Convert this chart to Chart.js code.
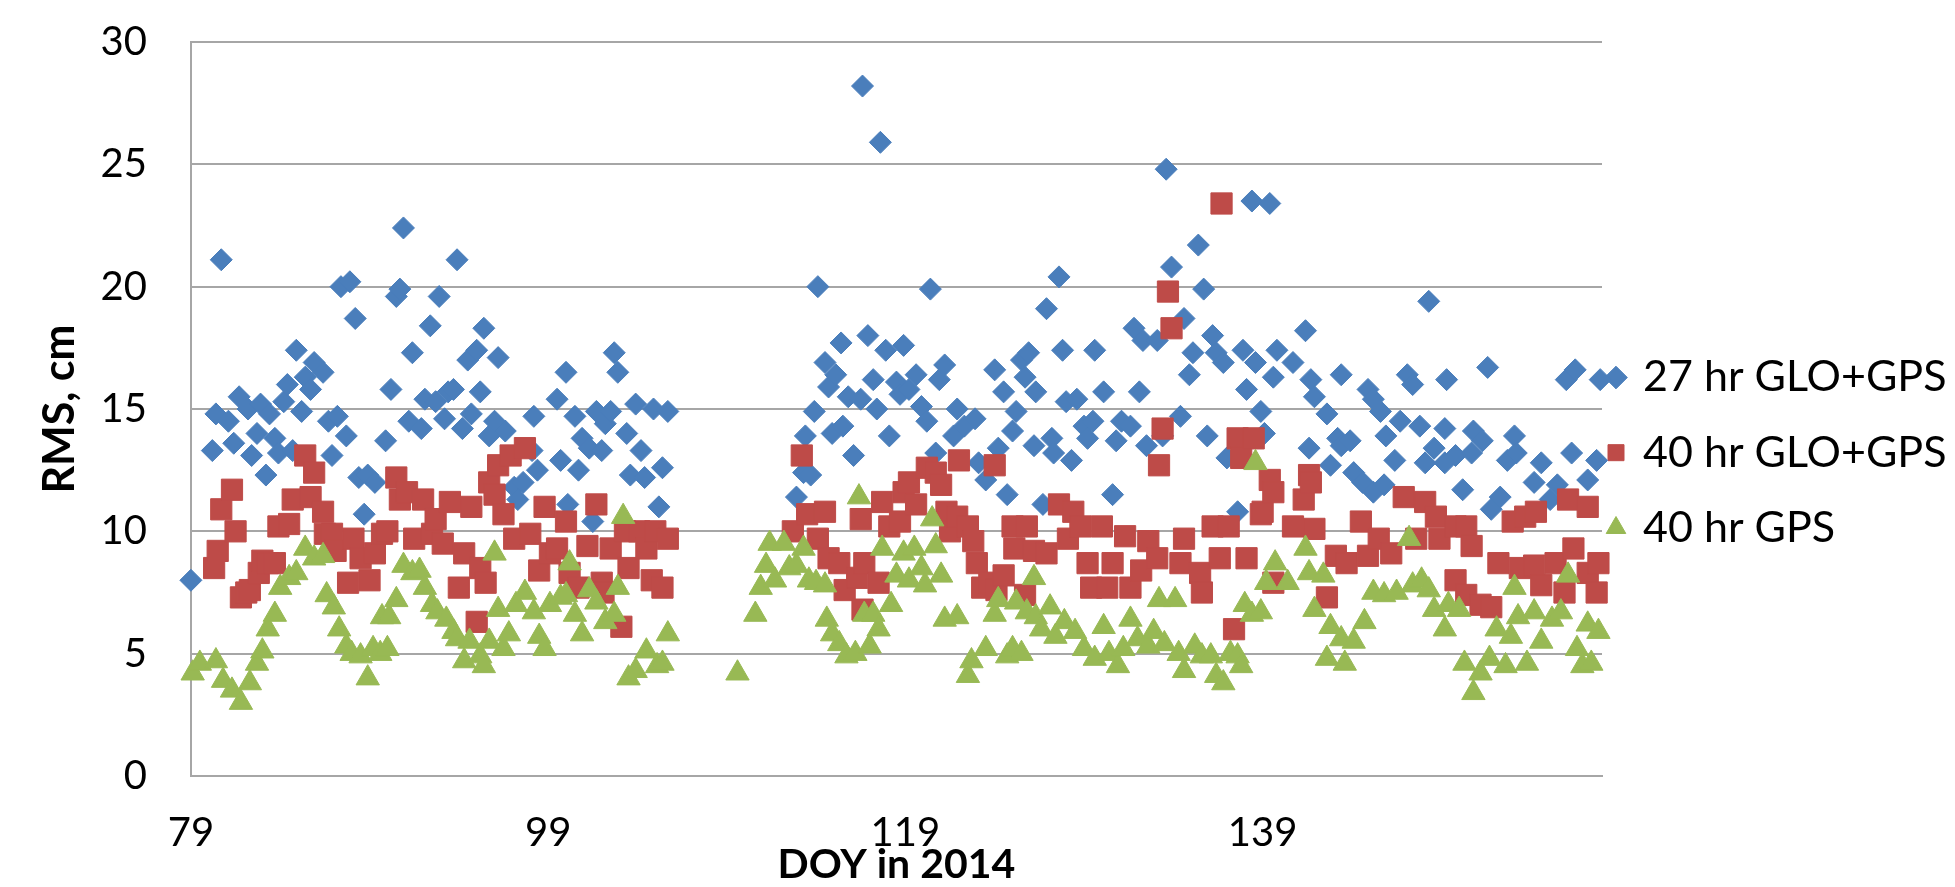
<!DOCTYPE html>
<html><head><meta charset="utf-8">
<script src="https://cdn.jsdelivr.net/npm/chart.js@4.4.1/dist/chart.umd.min.js"></script>
<style>html,body{margin:0;padding:0;background:#fff;}canvas{display:block;}</style>
</head><body>
<canvas id="c" width="1955" height="887"></canvas>
<script>
const seriesNames = ['27 hr GLO+GPS', '40 hr GLO+GPS', '40 hr GPS'];
const xTickValues = [79, 99, 119, 139];

const dayBlue = [79.0,80.2,80.4,80.7,81.1,81.4,81.7,82.2,82.4,82.7,82.9,83.2,83.4,83.7,83.9,84.2,84.4,84.7,84.9,85.2,85.4,85.7,85.9,86.4,86.7,86.9,87.2,87.4,87.7,87.9,88.2,88.4,88.7,88.9,89.3,89.9,90.2,90.5,90.7,90.9,91.2,91.4,91.9,92.1,92.4,92.7,92.9,93.2,93.4,93.7,93.9,94.2,94.5,94.7,95.0,95.2,95.4,95.7,96.0,96.2,96.6,97.1,97.3,97.6,98.1,98.2,98.4,99.5,99.7,100.0,100.1,100.5,100.7,100.9,101.3,101.5,101.7,102.0,102.2,102.5,102.7,102.9,103.4,103.6,103.9,104.2,104.4,104.9,105.2,105.4,105.7,
112.9,113.3,113.4,113.7,113.9,114.1,114.5,114.7,114.9,115.1,115.4,115.5,115.8,116.1,116.5,116.6,116.9,117.2,117.4,117.6,117.9,118.1,118.5,118.7,118.9,119.2,119.6,119.9,120.2,120.4,120.7,120.9,121.2,121.7,121.9,122.3,122.9,123.1,123.5,124.0,124.2,124.5,124.7,125.0,125.2,125.5,125.7,125.9,126.2,126.3,126.7,126.9,127.2,127.3,127.6,127.8,128.0,128.3,128.6,129.0,129.2,129.5,129.6,130.1,130.6,130.8,131.1,131.6,131.8,132.1,132.3,132.5,133.1,133.4,133.6,133.9,134.4,134.6,134.9,135.1,135.4,135.7,135.9,136.2,136.4,136.8,137.0,137.6,137.9,138.1,138.4,138.6,138.9,139.1,139.4,139.6,139.8,140.7,
141.4,141.6,141.7,141.9,142.6,142.8,143.2,143.4,143.4,143.9,144.1,144.6,144.9,145.2,145.2,145.6,145.8,145.9,146.4,146.7,147.1,147.4,147.8,148.1,148.3,148.6,149.2,149.2,149.3,149.8,150.2,150.7,150.8,151.3,151.6,151.8,152.3,152.7,153.1,153.2,154.2,154.6,155.1,155.5,156.0,156.3,156.5,157.2,157.7,157.9];
const rmsBlue = [8.0,13.3,14.8,21.1,14.5,13.6,15.5,15.0,13.1,14.0,15.2,12.3,14.8,13.8,13.2,15.3,16.0,13.3,17.4,14.9,16.3,15.8,16.9,16.5,14.5,13.1,14.7,20.0,13.9,20.2,18.7,12.2,10.7,12.3,12.0,13.7,15.8,19.6,19.9,22.4,14.5,17.3,14.2,15.4,18.4,15.3,19.6,14.6,15.7,15.8,21.1,14.2,17.0,14.8,17.4,15.7,18.3,13.9,14.5,17.1,14.1,11.8,11.3,12.0,13.3,14.7,12.5,15.4,12.9,16.5,11.1,14.7,12.5,13.8,13.4,10.4,14.9,13.3,14.4,14.9,17.3,16.5,14.0,12.3,15.2,13.3,12.2,15.0,11.0,12.6,14.9,
11.4,12.4,13.9,12.3,14.9,20.0,16.9,15.9,14.0,16.4,17.7,14.3,15.5,13.1,15.4,28.2,18.0,16.2,15.0,25.9,17.4,13.9,16.1,15.6,17.6,15.8,16.4,15.1,14.5,19.9,13.2,16.2,16.8,13.9,15.0,14.3,14.6,12.8,12.1,16.6,13.4,15.7,11.5,14.1,14.9,17.0,16.3,17.3,13.5,15.7,11.1,19.1,13.8,13.2,20.4,17.4,15.3,12.9,15.4,14.3,13.8,14.5,17.4,15.7,11.5,13.7,14.5,14.3,18.3,15.7,17.8,13.5,17.8,13.9,24.8,20.8,14.7,18.7,16.4,17.3,21.7,19.9,13.9,18.0,17.3,16.9,13.0,10.8,17.4,15.8,23.5,16.9,14.9,14.0,23.4,16.3,17.4,16.9,
18.2,13.4,16.2,15.5,14.8,12.7,13.8,16.4,13.5,13.7,12.4,12.0,15.8,15.4,11.6,14.9,11.9,13.9,12.9,14.5,16.4,16.0,14.3,12.8,19.4,13.4,14.2,12.8,16.2,13.1,11.7,13.2,14.1,13.7,16.7,10.9,11.4,12.9,13.9,13.2,12.0,12.8,11.3,11.9,16.2,13.2,16.6,12.1,12.9,16.2];

const dayRed = [80.3,80.5,80.7,81.3,81.5,81.8,82.1,82.3,82.8,83.0,83.3,83.7,83.9,84.5,84.7,85.4,85.7,85.9,86.4,86.5,86.9,87.1,87.8,88.1,88.5,89.0,89.3,89.7,90.0,90.5,90.7,91.1,91.5,92.0,92.5,92.7,93.1,93.5,94.0,94.3,94.7,95.0,95.2,95.5,95.7,96.0,96.2,96.5,96.9,97.1,97.7,98.0,98.5,98.8,99.1,99.5,100.0,100.2,100.7,101.2,101.7,102.0,102.1,102.5,103.1,103.3,103.5,104.1,104.5,104.8,105.0,105.4,105.7,
112.7,113.2,113.5,114.1,114.5,114.7,115.3,115.6,116.3,116.5,116.6,116.7,117.5,117.7,118.1,118.7,118.9,119.2,119.6,120.2,120.7,121.0,121.3,121.5,121.9,122.0,122.5,122.8,123.0,123.3,123.7,124.0,124.1,124.5,125.0,125.1,125.7,125.8,126.2,126.9,127.6,128.1,128.4,128.8,129.2,129.4,130.0,130.3,130.6,131.3,131.6,132.2,132.6,133.1,133.2,133.4,133.7,133.9,134.4,134.6,135.5,135.6,136.2,136.6,136.7,137.1,137.4,137.6,137.8,138.1,138.5,138.9,139.0,139.4,139.6,139.6,140.7,141.3,
141.6,141.7,141.9,142.6,143.1,143.7,144.5,144.9,145.5,146.2,146.9,147.6,148.1,148.7,148.9,149.8,149.8,150.4,150.4,150.7,151.2,151.8,152.2,153.0,153.4,153.7,154.2,154.3,154.6,155.4,155.9,156.1,156.4,157.2,157.2,157.7,157.8];
const rmsRed = [8.5,9.2,10.9,11.7,10.0,7.3,7.5,7.6,8.3,8.8,8.7,8.7,10.2,10.3,11.3,13.1,11.4,12.4,10.8,9.9,9.9,9.2,7.9,9.7,8.9,8.0,9.1,9.9,10.0,12.2,11.3,11.6,9.7,11.3,9.9,10.5,9.5,11.2,7.7,9.1,11.0,6.3,8.5,7.9,12.0,11.5,12.7,10.7,13.1,9.7,13.4,9.9,8.4,11.0,9.1,9.3,10.4,8.3,7.7,9.4,11.1,7.9,7.5,9.3,6.1,10.0,8.5,10.0,9.3,8.0,10.0,7.7,9.7,
10.0,13.1,10.7,9.7,10.8,8.9,8.7,7.6,8.1,10.5,6.8,8.7,7.9,11.2,10.2,10.4,11.6,12.0,11.1,12.6,12.4,11.9,10.8,10.0,10.6,12.9,10.2,9.6,8.7,7.7,7.9,12.7,7.6,8.2,10.2,9.3,7.4,10.2,9.2,9.1,11.1,9.7,10.8,10.2,8.7,7.7,10.2,7.7,8.7,9.8,7.7,8.4,9.6,8.9,12.7,14.2,19.8,18.3,8.7,9.7,8.3,7.5,10.2,8.9,23.4,10.2,6.0,13.8,13.0,8.9,13.8,10.7,10.8,12.1,11.6,7.9,10.2,11.3,
12.3,12.0,10.1,7.3,9.0,8.7,10.4,9.0,9.7,9.1,11.4,9.7,11.2,10.6,9.7,10.2,8.0,10.2,7.4,9.4,7.0,6.9,8.7,10.4,8.5,10.6,8.6,10.8,7.8,8.7,7.5,11.3,9.3,11.0,8.3,7.5,8.7];

const dayGreen = [79.1,79.5,80.4,80.8,81.3,81.8,82.3,82.7,83.0,83.3,83.7,84.0,84.5,84.9,85.4,85.9,86.4,86.6,87.0,87.3,87.7,88.0,88.5,88.9,89.2,89.6,89.7,90.0,90.1,90.5,90.9,91.4,91.8,92.1,92.5,92.8,93.3,93.7,93.9,94.3,94.6,95.2,95.4,95.7,96.0,96.2,96.5,96.8,97.2,97.7,98.2,98.5,98.8,99.1,99.7,100.0,100.2,100.5,100.9,101.3,101.7,102.2,102.7,102.9,103.2,103.5,103.9,104.5,105.1,105.4,105.7,109.6,
110.6,110.9,111.2,111.4,111.7,112.2,112.5,112.9,113.3,113.6,114.0,114.5,114.6,114.9,115.3,115.7,116.2,116.4,116.7,117.0,117.2,117.5,117.7,118.2,118.5,118.9,119.2,119.5,119.9,120.1,120.5,120.7,121.0,121.2,121.9,122.5,122.7,123.5,124.0,124.2,124.7,125.0,125.2,125.5,125.8,126.2,126.3,126.6,127.1,127.4,127.9,128.5,129.0,129.6,130.1,130.4,130.9,131.2,131.6,132.0,132.6,132.9,133.2,133.5,134.1,134.3,134.6,135.2,135.6,136.1,136.4,136.8,137.2,137.6,137.8,138.0,138.4,138.6,138.9,139.2,139.7,140.4,
141.4,141.6,141.9,142.4,142.6,142.8,143.4,143.6,144.1,144.7,145.2,145.8,146.5,147.2,147.4,147.9,148.3,148.6,149.2,149.4,150.0,150.3,150.8,151.2,151.7,152.1,152.6,152.9,153.1,153.3,153.8,154.2,154.6,155.2,155.7,156.1,156.6,156.9,157.2,157.4,157.8];
const rmsGreen = [4.2,4.6,4.7,3.9,3.5,3.0,3.8,4.6,5.1,6.0,6.6,7.7,8.1,8.3,9.3,8.9,9.0,7.4,6.9,6.0,5.3,5.0,4.9,4.0,5.2,5.0,6.5,5.2,6.5,7.2,8.6,8.3,8.4,7.7,7.0,6.7,6.4,5.9,5.6,4.7,5.5,4.9,4.5,5.5,9.1,6.8,5.2,5.8,7.0,7.5,6.7,5.7,5.2,7.0,7.3,7.4,8.7,6.6,5.8,7.6,7.1,6.3,6.6,7.7,10.6,4.0,4.3,5.1,4.5,4.6,5.8,4.2,
6.6,7.7,8.6,9.5,8.0,9.5,8.5,8.6,9.3,8.0,7.9,7.8,6.4,5.8,5.4,4.9,5.0,11.4,6.6,5.3,6.6,6.0,9.3,7.0,8.2,9.1,8.0,9.3,8.5,7.8,10.5,9.4,8.2,6.4,6.5,4.1,4.7,5.2,6.6,7.2,4.9,5.2,7.1,5.0,6.7,8.1,6.5,6.0,6.9,5.7,6.3,5.9,5.2,4.8,6.1,5.0,4.5,5.2,6.4,5.6,5.3,5.9,7.2,5.4,7.2,5.0,4.3,5.3,4.9,4.9,4.1,3.8,5.0,4.9,4.5,7.0,6.6,12.8,6.7,7.9,8.7,7.9,
9.3,8.3,6.8,8.2,4.8,6.1,5.6,4.6,5.5,6.3,7.5,7.4,7.5,9.7,7.8,8.0,7.6,6.8,6.0,7.0,6.8,4.6,3.4,4.2,4.8,6.0,4.5,5.7,7.7,6.5,4.6,6.7,5.5,6.4,6.7,8.2,5.2,4.5,6.2,4.6,5.9];

function pts(xs, ys) { return xs.map((x, i) => ({x: x, y: ys[i]})); }

function draw() {
  const tickFont = {family: 'Lato', size: 40, lineHeight: 1};
  new Chart(document.getElementById('c'), {
    type: 'scatter',
    data: {
      datasets: [
        {label: seriesNames[0], data: pts(dayBlue, rmsBlue), pointStyle: 'rectRot', pointRadius: 11,
         backgroundColor: '#4a7ebb', borderColor: '#4a7ebb', borderWidth: 1, order: 3, clip: false},
        {label: seriesNames[1], data: pts(dayRed, rmsRed), pointStyle: 'rect', pointRadius: 15,
         backgroundColor: '#be4b48', borderColor: '#be4b48', borderWidth: 1, order: 2, clip: false},
        {label: seriesNames[2], data: pts(dayGreen, rmsGreen), pointStyle: 'triangle', pointRadius: 13.5,
         backgroundColor: '#98b954', borderColor: '#98b954', borderWidth: 1, order: 1, clip: false}
      ]
    },
    options: {
      responsive: false, animation: false, devicePixelRatio: 1, events: [],
      layout: {padding: {top: 42, bottom: 0, left: 0, right: 0}},
      plugins: {
        tooltip: {enabled: false},
        legend: {
          position: 'right', align: 'center', maxWidth: 353,
          labels: {usePointStyle: true, boxWidth: 11, boxHeight: 16, padding: 8.5, color: '#000',
                   font: {family: 'Lato', size: 43, lineHeight: 1.55},
                   sort: (a, b) => a.datasetIndex - b.datasetIndex,
                   generateLabels: chart => Chart.defaults.plugins.legend.labels.generateLabels(chart)
                     .map(item => Object.assign(item, {text: [item.text + '      ']}))}
        }
      },
      scales: {
        x: {
          type: 'linear', min: 79, max: 158,
          afterBuildTicks: s => { s.ticks = xTickValues.map(v => ({value: v})); },
          grid: {display: false, drawTicks: false},
          border: {display: true, color: '#a6a6a6', width: 2},
          ticks: {padding: 37, color: '#000', font: tickFont, maxRotation: 0, autoSkip: false},
          title: {display: true, text: 'DOY in 2014', color: '#000',
                  font: {family: 'Lato', size: 41, weight: 'bold', lineHeight: 1},
                  padding: {top: -45.5, bottom: 1.5}}
        },
        y: {
          min: 0, max: 30,
          ticks: {stepSize: 5, padding: 0, color: '#000', font: tickFont},
          grid: {color: '#a6a6a6', lineWidth: 2, drawTicks: true, tickLength: 44, tickColor: 'rgba(0,0,0,0)'},
          border: {display: true, color: '#a6a6a6', width: 2},
          title: {display: true, text: 'RMS, cm', color: '#000',
                  font: {family: 'Lato', size: 43, weight: 'bold', lineHeight: 1},
                  padding: {top: 39, bottom: 18.5}}
        }
      }
    }
  });
}
Promise.all([document.fonts.load('40px Lato'), document.fonts.load('bold 41px Lato')]).then(draw, draw);
</script>
</body></html>
